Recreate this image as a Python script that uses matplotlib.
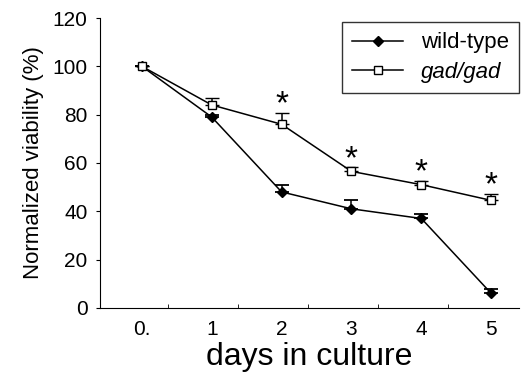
import matplotlib
matplotlib.use("Agg")
import matplotlib.pyplot as plt
from matplotlib.lines import Line2D
import numpy as np

plt.rcParams['font.family'] = ['Liberation Sans', 'DejaVu Sans']

days = [0, 1, 2, 3, 4, 5]
day_labels = ['0.', '1', '2', '3', '4', '5']
wild_type = [100, 79, 48, 41, 37, 6]
wild_err = [0, 1, 3, 3.5, 2, 2]
gad_gad = [100, 84, 76, 56.5, 51, 44.5]
gad_err = [0, 3, 4.5, 1.8, 1.5, 2.5]
star_days = [2, 3, 4, 5]
star_y = [84, 61.5, 56, 50.5]

fig = plt.figure(figsize=(5.26, 3.75), dpi=100)
ax = fig.add_axes([0.19, 0.179, 0.797, 0.773])

# wild-type: filled diamonds
ax.errorbar(days, wild_type, yerr=[np.zeros(6), wild_err], color='black',
            marker='D', markersize=5, markerfacecolor='black', linewidth=1.1,
            elinewidth=1.1, capsize=5, capthick=1.3)
# gad/gad: open squares
ax.errorbar(days, gad_gad, yerr=[np.zeros(6), gad_err], color='black',
            marker='s', markersize=6, markerfacecolor='white', markeredgewidth=1,
            linewidth=1.1, elinewidth=1.1, capsize=5, capthick=1.3)

for d, s in zip(star_days, star_y):
    ax.text(d, s, '*', ha='center', va='center', fontsize=24)

ax.set_xlim(-0.6, 5.4)
ax.set_ylim(0, 120)
ax.set_yticks([0, 20, 40, 60, 80, 100, 120])
ax.set_xticks(days)
ax.set_xticklabels(day_labels)
ax.set_xticks([d + 0.38 for d in days[:-1]], minor=True)
ax.tick_params(axis='x', which='major', length=0, labelsize=15, pad=9)
ax.tick_params(axis='x', which='minor', direction='in', length=3)
ax.tick_params(axis='y', direction='out', length=3, labelsize=15, pad=6)

ax.spines['top'].set_visible(False)
ax.spines['right'].set_visible(False)

ax.set_xlabel('days in culture', fontsize=23, labelpad=2)
ax.set_ylabel('Normalized viability (%)', fontsize=16, labelpad=6)

handles = [
    Line2D([], [], color='black', marker='D', markersize=5, linewidth=1.1),
    Line2D([], [], color='black', marker='s', markersize=6,
           markerfacecolor='white', linewidth=1.1),
]
leg = ax.legend(handles, ['wild-type', 'gad/gad'], loc='upper right',
                bbox_to_anchor=(1.0, 0.985), borderaxespad=0, fontsize=16,
                frameon=True, fancybox=False, edgecolor='black',
                handlelength=2.3, handletextpad=0.8, borderpad=0.45,
                labelspacing=0.4)
leg.get_frame().set_linewidth(1)
leg.get_texts()[1].set_style('italic')

fig.savefig('out.png', dpi=100)
